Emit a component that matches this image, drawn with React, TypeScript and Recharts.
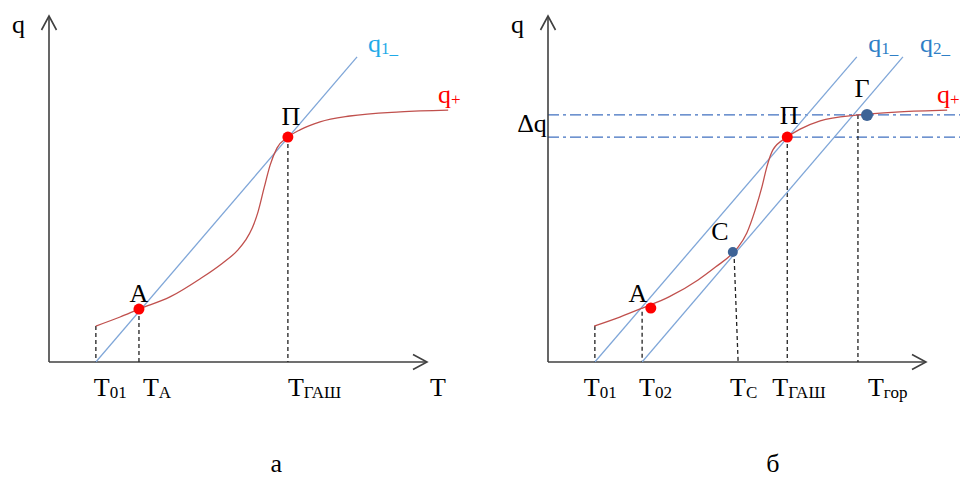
import { LineChart, Line, XAxis, YAxis, ReferenceLine, ReferenceDot } from "recharts";

const SERIF = '"Liberation Serif", "Times New Roman", serif';
const INK = "#000";
const AXIS = "#404040";
const CURVE = "#c0504d";
const RAY = "#7fa6d8";
const GUIDE = "#4070c0";
const RED = "#ff0000";
const NAVY = "#3d6396";

// ---- panel а ----
const qPlusA = [
  { T: 12.4, q: 10.4 },
  { T: 18.8, q: 13.0 },
  { T: 23.8, q: 15.3 },
  { T: 32.0, q: 18.8 },
  { T: 39.9, q: 24.0 },
  { T: 45.8, q: 28.5 },
  { T: 50.0, q: 32.4 },
  { T: 52.0, q: 35.2 },
  { T: 53.8, q: 38.8 },
  { T: 55.3, q: 43.4 },
  { T: 56.9, q: 50.3 },
  { T: 58.5, q: 56.9 },
  { T: 60.3, q: 61.8 },
  { T: 63.2, q: 65.0 },
  { T: 66.4, q: 67.1 },
  { T: 71.7, q: 69.4 },
  { T: 79.6, q: 71.1 },
  { T: 92.9, q: 72.3 },
  { T: 105.6, q: 72.8 },
];
const q1A = [
  { T: 12.4, q: 0 },
  { T: 81.5, q: 88.2 },
];
const pointsA = [
  { name: "A", T: 23.8, q: 15.3 },
  { name: "П", T: 63.2, q: 65.0 },
];
const guidesA = [
  { T: 12.4, q: 10.4 },
  { T: 23.8, q: 15.3 },
  { T: 63.2, q: 65.0 },
];
const ticksA = [12.4, 23.8, 63.2, 100.8];
const tickNamesA = [
  ["T", "01"],
  ["T", "A"],
  ["T", "ГАШ"],
  ["T", ""],
];

// ---- panel б ----
const qPlusB = [
  { T: 12.2, q: 10.4 },
  { T: 19.0, q: 13.0 },
  { T: 25.0, q: 15.6 },
  { T: 32.0, q: 18.8 },
  { T: 39.7, q: 23.7 },
  { T: 44.4, q: 27.5 },
  { T: 49.2, q: 31.8 },
  { T: 50.3, q: 33.2 },
  { T: 52.6, q: 37.3 },
  { T: 54.8, q: 43.9 },
  { T: 56.6, q: 50.6 },
  { T: 57.9, q: 56.4 },
  { T: 59.5, q: 61.3 },
  { T: 63.3, q: 65.0 },
  { T: 66.7, q: 67.3 },
  { T: 72.0, q: 69.7 },
  { T: 82.0, q: 71.4 },
  { T: 93.1, q: 72.3 },
  { T: 105.6, q: 72.8 },
];
const q1B = [
  { T: 12.4, q: 0 },
  { T: 81.7, q: 88.2 },
];
const q2B = [
  { T: 24.9, q: 0 },
  { T: 93.9, q: 88.2 },
];
const pointsB = [
  { name: "A", T: 27.2, q: 15.6, kind: "red" },
  { name: "C", T: 48.9, q: 31.8, kind: "navy" },
  { name: "П", T: 63.3, q: 65.0, kind: "red" },
  { name: "Г", T: 84.4, q: 71.4, kind: "navy" },
];
// guide tops and their feet on the T axis
const guidesB = [
  { T: 12.4, q: 10.4, foot: 12.4 },
  { T: 24.9, q: 14.5, foot: 24.9 },
  { T: 49.2, q: 31.8, foot: 50.3 },
  { T: 63.3, q: 65.0, foot: 63.3 },
  { T: 82.0, q: 71.4, foot: 82.0 },
];
const deltaLevels = [71.4, 65.0];
const ticksB = [12.4, 24.9, 50.3, 63.3, 82.0];
const tickNamesB = [
  ["T", "01"],
  ["T", "02"],
  ["T", "C"],
  ["T", "ГАШ"],
  ["T", "гор"],
];

// label nudges (px)
const tickShiftA = [-2, 4, 0, 0];
const tickShiftB = [-11, -3, -8, -15, 10];
const pointLabelA: Record<string, [number, number]> = { A: [0, -7], П: [3, -12] };
const pointLabelB: Record<string, [number, number]> = {
  A: [-13, -6],
  C: [-13, -12],
  П: [2, -13],
  Г: [-5, -18],
};

const BIG = 26;
const SMALL = 17;

function Word({ x, y, main, sub, color = INK, anchor = "start", size = BIG, subSize = SMALL }: any) {
  return (
    <text x={x} y={y} fill={color} fontFamily={SERIF} fontSize={size} textAnchor={anchor}>
      {main}
      {sub ? (
        <tspan fontSize={subSize} dy={2}>
          {sub}
        </tspan>
      ) : null}
    </text>
  );
}

function Tag(props: any) {
  const { T, q, ...rest } = props;
  return (
    <ReferenceDot
      x={T}
      y={q}
      r={0}
      fill="none"
      stroke="none"
      ifOverflow="visible"
      label={(p: any) => <Word x={p.viewBox.x} y={p.viewBox.y} {...rest} />}
    />
  );
}

const Arrow = (p: any) => {
  const { x1, y1, x2, y2 } = p;
  const ang = Math.atan2(y2 - y1, x2 - x1);
  const len = 14;
  const w = 7.5;
  const bx = x2 - len * Math.cos(ang);
  const by = y2 - len * Math.sin(ang);
  const px = -Math.sin(ang) * w;
  const py = Math.cos(ang) * w;
  return (
    <g>
      <line x1={x1} y1={y1} x2={x2} y2={y2} stroke={AXIS} strokeWidth={1.6} />
      <polyline
        points={`${bx + px},${by + py} ${x2},${y2} ${bx - px},${by - py}`}
        fill="none"
        stroke={AXIS}
        strokeWidth={1.6}
      />
    </g>
  );
};

const makeTick = (ticks: number[], names: string[][], shift: number[]) => (p: any) => {
  const i = ticks.findIndex((t) => Math.abs(t - p.payload.value) < 1e-6);
  if (i < 0) return null;
  return <Word x={p.x + shift[i]} y={p.y + 32} main={names[i][0]} sub={names[i][1]} />;
};

function Axes() {
  return (
    <>
      <ReferenceLine
        segment={[{ x: 0, y: 0 }, { x: 100, y: 0 }]}
        ifOverflow="visible"
        shape={Arrow}
      />
      <ReferenceLine
        segment={[{ x: 0, y: 0 }, { x: 0, y: 100 }]}
        ifOverflow="visible"
        shape={Arrow}
      />
    </>
  );
}

function dotLabel(name: string, nudge: Record<string, [number, number]>) {
  return (p: any) => {
    const cx = p.viewBox.x + p.viewBox.width / 2;
    const cy = p.viewBox.y + p.viewBox.height / 2;
    const [dx, dy] = nudge[name];
    return <Word x={cx + dx} y={cy + dy} main={name} anchor="middle" />;
  };
}

function PanelA() {
  return (
    <LineChart
      width={480}
      height={477}
      margin={{ top: 16, right: 15.2, bottom: 85, left: 49 }}
      style={{ position: "absolute", left: 0, top: 0, overflow: "visible" }}
    >
      <XAxis
        type="number"
        dataKey="T"
        domain={[0, 110]}
        allowDataOverflow
        ticks={ticksA}
        interval={0}
        axisLine={false}
        tickLine={false}
        tickSize={0}
        height={30}
        tick={makeTick(ticksA, tickNamesA, tickShiftA)}
      />
      <YAxis type="number" dataKey="q" domain={[0, 100]} allowDataOverflow hide />
      <Axes />
      {guidesA.map((g) => (
        <ReferenceLine
          key={g.T}
          segment={[{ x: g.T, y: g.q }, { x: g.T, y: 0 }]}
          stroke="#222"
          strokeWidth={1.3}
          strokeDasharray="4 3"
          ifOverflow="visible"
        />
      ))}
      <Line data={q1A} dataKey="q" type="linear" stroke={RAY} strokeWidth={1.3} dot={false} isAnimationActive={false} />
      <Line data={qPlusA} dataKey="q" type="monotone" stroke={CURVE} strokeWidth={1.3} dot={false} isAnimationActive={false} />
      {pointsA.map((pt) => (
        <ReferenceDot
          key={pt.name}
          x={pt.T}
          y={pt.q}
          r={5.5}
          fill={RED}
          stroke="none"
          ifOverflow="visible"
          label={dotLabel(pt.name, pointLabelA)}
        />
      ))}
      <Tag T={-9.8} q={95.1} main="q" />
      <Tag T={84.4} q={89.6} main="q" sub="1_" color="#1faae8" />
      <Tag T={102.9} q={74.9} main="q" sub="+" color={RED} />
      <Tag T={60.1} q={-31.8} main="а" anchor="middle" />
    </LineChart>
  );
}

function PanelB() {
  return (
    <LineChart
      width={480}
      height={477}
      margin={{ top: 16, right: 0, bottom: 85, left: 68 }}
      style={{ position: "absolute", left: 480, top: 0, overflow: "visible" }}
    >
      <XAxis
        type="number"
        dataKey="T"
        domain={[0, 109]}
        allowDataOverflow
        ticks={ticksB}
        interval={0}
        axisLine={false}
        tickLine={false}
        tickSize={0}
        height={30}
        tick={makeTick(ticksB, tickNamesB, tickShiftB)}
      />
      <YAxis type="number" dataKey="q" domain={[0, 100]} allowDataOverflow hide />
      {deltaLevels.map((lv) => (
        <ReferenceLine
          key={lv}
          segment={[{ x: 0, y: lv }, { x: 109, y: lv }]}
          stroke={GUIDE}
          strokeWidth={1.3}
          strokeDasharray="11 4 3 4"
          ifOverflow="visible"
        />
      ))}
      <Axes />
      {guidesB.map((g) => (
        <ReferenceLine
          key={g.T}
          segment={[{ x: g.T, y: g.q }, { x: g.foot, y: 0 }]}
          stroke="#222"
          strokeWidth={1.3}
          strokeDasharray="4 3"
          ifOverflow="visible"
        />
      ))}
      <Line data={q1B} dataKey="q" type="linear" stroke={RAY} strokeWidth={1.3} dot={false} isAnimationActive={false} />
      <Line data={q2B} dataKey="q" type="linear" stroke={RAY} strokeWidth={1.3} dot={false} isAnimationActive={false} />
      <Line data={qPlusB} dataKey="q" type="monotone" stroke={CURVE} strokeWidth={1.3} dot={false} isAnimationActive={false} />
      {pointsB.map((pt) => (
        <ReferenceDot
          key={pt.name}
          x={pt.T}
          y={pt.q}
          r={pt.kind === "red" ? 5.5 : pt.name === "Г" ? 6 : 5}
          fill={pt.kind === "red" ? RED : NAVY}
          stroke="none"
          ifOverflow="visible"
          label={dotLabel(pt.name, pointLabelB)}
        />
      ))}
      <Tag T={-9.8} q={95.1} main="q" />
      <Tag T={-0.3} q={66.5} main="Δq" anchor="end" />
      <Tag T={84.7} q={89.6} main="q" sub="1_" color="#2f7fc6" />
      <Tag T={98.4} q={89.6} main="q" sub="2_" color="#2f7fc6" />
      <Tag T={102.9} q={74.9} main="q" sub="+" color={RED} />
      <Tag T={59.5} q={-31.8} main="б" anchor="middle" />
    </LineChart>
  );
}

export default function App() {
  return (
    <div style={{ position: "absolute", left: 0, top: 0, width: 960, height: 477, background: "#fff", overflow: "hidden" }}>
      <PanelA />
      <PanelB />
    </div>
  );
}
